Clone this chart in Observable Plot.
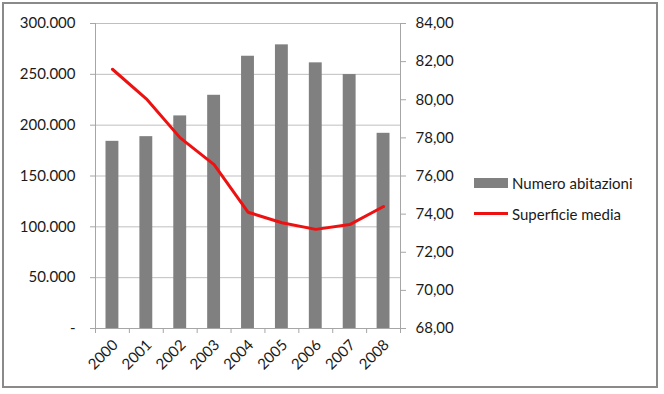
<!DOCTYPE html>
<html>
<head>
<meta charset="utf-8">
<script src="https://cdn.jsdelivr.net/npm/d3@7"></script>
<script src="https://cdn.jsdelivr.net/npm/@observablehq/plot@0.6"></script>
<style>
  html, body { margin: 0; padding: 0; background: #fff; }
  #wrap { position: relative; width: 664px; height: 394px; font-family: Lato, "Liberation Sans", sans-serif; }
  #frame { position: absolute; left: 2px; top: 2px; width: 656px; height: 386px; border: 2px solid #8a8a8a; box-sizing: border-box; pointer-events: none; }
  #legend { position: absolute; left: 474px; top: 167px; font-size: 15px; color: #1a1a1a; }
  .item { display: flex; align-items: center; height: 31px; }
  .sw { width: 34px; margin-right: 4px; }
</style>
</head>
<body>
<div id="wrap">
  <div id="chart"></div>
  <div id="frame"></div>
  <div id="legend">
    <div class="item"><div class="sw" style="height:10px;background:#808080"></div><span>Numero abitazioni</span></div>
    <div class="item"><div class="sw" style="height:3px;background:#ee1111"></div><span>Superficie media</span></div>
  </div>
</div>
<script>
const years = [2000, 2001, 2002, 2003, 2004, 2005, 2006, 2007, 2008];
const abitazioni = [184100, 188700, 209100, 229400, 267800, 279000, 261300, 249800, 192000];
const superficie = [81.6, 80.05, 78.0, 76.6, 74.1, 73.55, 73.2, 73.45, 74.4];
const leftTicks = [0, 50000, 100000, 150000, 200000, 250000, 300000];
const rightTicks = [68, 70, 72, 74, 76, 78, 80, 82, 84];
const seriesNames = ["Numero abitazioni", "Superficie media"];

const rMin = 68, rMax = 84, lMax = 300000;
const toLeft = v => (v - rMin) / (rMax - rMin) * lMax;
const toRight = v => rMin + v / lMax * (rMax - rMin);

const data = years.map((y, i) => ({year: y, n: abitazioni[i], s: superficie[i]}));
const itFmt = d3.formatLocale({decimal: ",", thousands: ".", grouping: [3], currency: ["", "€"]});
const leftFmt = v => v === 0 ? "-" : itFmt.format(",.0f")(v);
const rightFmt = v => itFmt.format(".2f")(toRight(v));

const chart = Plot.plot({
  width: 664,
  height: 394,
  marginLeft: 95,
  marginRight: 264,
  marginTop: 23,
  marginBottom: 66,
  style: {fontFamily: "Lato, 'Liberation Sans', sans-serif", fontSize: "15px", color: "#1a1a1a", background: "transparent"},
  x: {domain: [years[0] - 0.5, years[years.length - 1] + 0.5]},
  y: {domain: [0, lMax]},
  marks: [
    Plot.gridY(leftTicks, {stroke: "#bfbfbf", strokeOpacity: 1, x1: years[0] - 0.5, x2: years[years.length - 1] + 0.5}),
    Plot.rectY(data, {x1: d => d.year - 0.5, x2: d => d.year + 0.5, y: "n", fill: "#808080", insetLeft: 10.5, insetRight: 10.5}),
    Plot.ruleX([years[0] - 0.5, years[years.length - 1] + 0.5], {stroke: "#a6a6a6"}),
    Plot.ruleY([0], {stroke: "#a6a6a6"}),
    Plot.line(data, {x: "year", y: d => toLeft(d.s), stroke: "#ee1111", strokeWidth: 3, strokeLinejoin: "round", curve: "linear"}),
    Plot.axisY(leftTicks, {anchor: "left", tickSize: 5, tickPadding: 15, tickFormat: leftFmt, stroke: "#a6a6a6", fill: "#1a1a1a", label: null}),
    Plot.axisY(rightTicks.map(toLeft), {anchor: "right", tickSize: 5, tickPadding: 10, tickFormat: rightFmt, stroke: "#a6a6a6", fill: "#1a1a1a", label: null}),
    Plot.axisX(d3.range(years[0] - 0.5, years[years.length - 1] + 1, 1), {anchor: "bottom", tickSize: 5, tickFormat: () => "", stroke: "#a6a6a6", label: null}),
    Plot.axisX(years, {anchor: "bottom", tickSize: 0, tickPadding: 14, tickRotate: -45, dx: 3, tickFormat: d => String(d), fill: "#1a1a1a", label: null})
  ]
});
document.getElementById("chart").appendChild(chart);
</script>
</body>
</html>
